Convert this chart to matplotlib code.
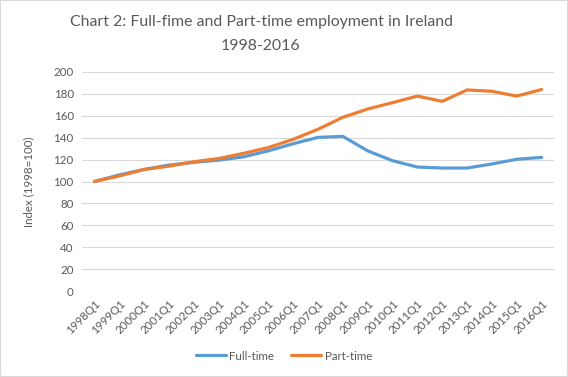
import matplotlib
matplotlib.use('Agg')
import matplotlib.pyplot as plt
from matplotlib.patches import Rectangle

plt.rcParams['font.family'] = ['Lato', 'DejaVu Sans']

quarters = ['1998Q1', '1999Q1', '2000Q1', '2001Q1', '2002Q1', '2003Q1', '2004Q1',
            '2005Q1', '2006Q1', '2007Q1', '2008Q1', '2009Q1', '2010Q1', '2011Q1',
            '2012Q1', '2013Q1', '2014Q1', '2015Q1', '2016Q1']
full_time = [100, 106, 111, 115, 117.5, 119.5, 122.5, 128, 134.5, 140.3, 141.2,
             128, 119, 113.2, 112.3, 112.3, 116, 120.3, 122]
part_time = [100, 105, 111, 114, 118, 121, 125.7, 131, 138.5, 147.7, 158.6,
             166.2, 172, 178, 173.2, 183.6, 182.4, 178, 184]

BLUE = '#5B9BD5'
ORANGE = '#ED7D31'
TXT = '#595959'


def main():
    fig = plt.figure(figsize=(5.68, 3.77), dpi=100)
    ax = fig.add_axes([82 / 568, 1 - 291 / 377, (554 - 82) / 568, (291 - 72) / 377])

    x = range(len(quarters))
    ax.plot(x, full_time, color=BLUE, lw=2.3, label='Full-time', solid_capstyle='round')
    ax.plot(x, part_time, color=ORANGE, lw=2.3, label='Part-time', solid_capstyle='round')

    ax.set_ylim(0, 200)
    ax.set_yticks(range(0, 201, 20))
    ax.set_xlim(-0.5, len(quarters) - 0.5)
    ax.set_xticks(list(x))
    ax.set_xticklabels(quarters, rotation=45, ha='right', rotation_mode='anchor')
    ax.grid(axis='y', color='#D9D9D9', lw=0.8)
    ax.set_axisbelow(True)
    for s in ax.spines.values():
        s.set_visible(False)
    ax.tick_params(length=0, colors=TXT, labelsize=8.3)
    ax.tick_params(axis='x', pad=5)
    ax.tick_params(axis='y', pad=6)
    ax.set_ylabel('Index (1998=100)', color=TXT, fontsize=8.3, labelpad=14)

    cx = 261 / 568
    fig.text(cx, 1 - 22 / 377, 'Chart 2: Full-fime and Part-time employment in Ireland',
             ha='center', va='center', fontsize=11.4, color=TXT)
    fig.text(cx, 1 - 46 / 377, '1998-2016', ha='center', va='center', fontsize=11.4, color=TXT)

    fig.legend(loc='center', bbox_to_anchor=(0.5, 1 - 356 / 377), ncol=2, frameon=False,
               fontsize=8.3, handlelength=2.6, columnspacing=1.5, handletextpad=0.3,
               labelcolor=TXT)

    fig.patches.append(Rectangle((0, 0), 1, 1, transform=fig.transFigure, fill=False,
                                 edgecolor='#D9D9D9', lw=1.5))
    fig.savefig('out.png', dpi=100)


if __name__ == '__main__':
    main()
